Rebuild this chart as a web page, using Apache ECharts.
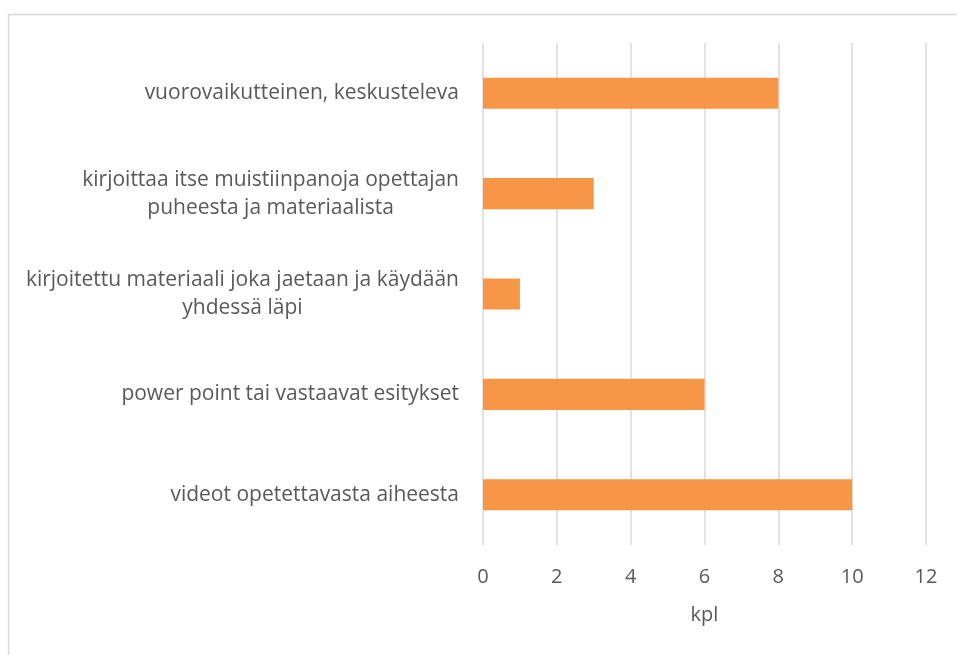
<!DOCTYPE html>
<html>
<head>
<meta charset="utf-8">
<script src="https://cdn.jsdelivr.net/npm/echarts@6/dist/echarts.min.js"></script>
<style>
html,body{margin:0;padding:0;background:#fff;}
#c{width:957px;height:655px;}
</style>
</head>
<body>
<div id="c"></div>
<script>
var categories = [
  "vuorovaikutteinen, keskusteleva",
  "kirjoittaa itse muistiinpanoja opettajan\npuheesta ja materiaalista",
  "kirjoitettu materiaali joka jaetaan ja käydään\nyhdessä läpi",
  "power point tai vastaavat esitykset",
  "videot opetettavasta aiheesta"
];
var values = [8, 3, 1, 6, 10];
var xTicks = [0, 2, 4, 6, 8, 10, 12];
var axisName = "kpl";

var chart = echarts.init(document.getElementById('c'));
var font = "'Open Sans', sans-serif";
chart.setOption({
  animation: false,
  backgroundColor: '#fff',
  graphic: [{
    type: 'rect',
    shape: {x: 8.5, y: 14.5, width: 1000, height: 700},
    style: {fill: 'none', stroke: '#D9D9D9', lineWidth: 1.5},
    silent: true
  }],
  grid: {left: 483, right: 31, top: 43, bottom: 110},
  xAxis: {
    type: 'value',
    min: xTicks[0],
    max: xTicks[xTicks.length - 1],
    interval: xTicks[1] - xTicks[0],
    axisLine: {show: false},
    axisTick: {show: false},
    splitLine: {show: true, lineStyle: {color: '#D9D9D9', width: 1.5}},
    axisLabel: {color: '#595959', fontSize: 20, fontFamily: font, margin: 22},
    name: axisName,
    nameLocation: 'middle',
    nameGap: 60,
    nameTextStyle: {color: '#595959', fontSize: 20, fontFamily: font}
  },
  yAxis: {
    type: 'category',
    inverse: true,
    data: categories,
    axisLine: {show: false},
    axisTick: {show: false},
    axisLabel: {
      color: '#595959', fontSize: 21, fontFamily: font, margin: 24,
      lineHeight: 28,
      formatter: function (v) {
        return v.split('\n').map(function (l) { return '{c|' + l + '}'; }).join('\n');
      },
      rich: {c: {align: 'center', color: '#595959', fontSize: 21, fontFamily: font, lineHeight: 28}}
    }
  },
  series: [{
    type: 'bar',
    data: values,
    barWidth: '31%',
    itemStyle: {color: '#F79646'}
  }]
});
</script>
</body>
</html>
